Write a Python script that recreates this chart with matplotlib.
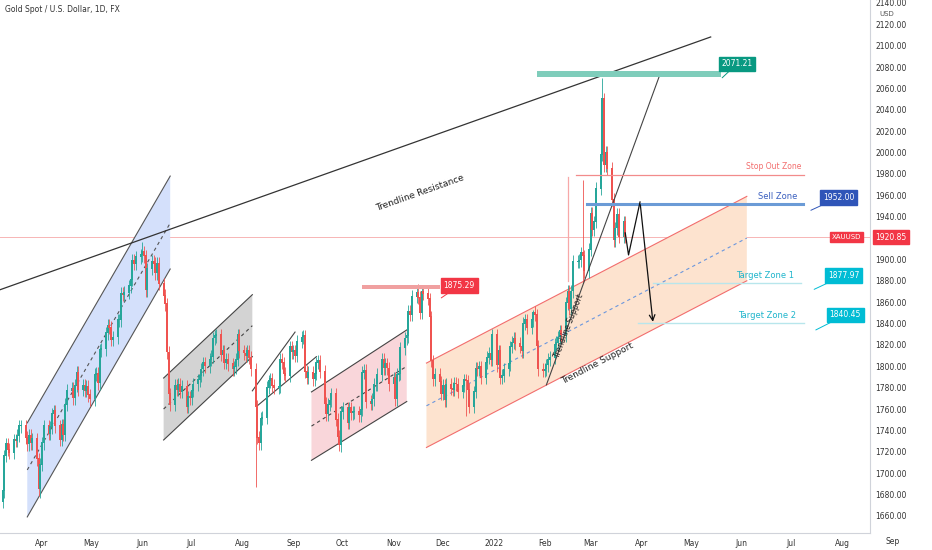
import matplotlib
matplotlib.use("Agg")
import matplotlib.pyplot as plt
from matplotlib.patches import Polygon, Rectangle
import pandas as pd
import numpy as np

BASE = pd.Timestamp("2021-03-01")

months = ["2021-03", "2021-04", "2021-05", "2021-06", "2021-07", "2021-08", "2021-09",
          "2021-10", "2021-11", "2021-12", "2022-01", "2022-02", "2022-03"]
month_start_day = {"2021-03": 8}
closes_by_month = [
    [1683,1716,1727,1722,1719,1731,1730,1735,1744,1744,1733,1727,1735,1728,1732,1713,1685,1708],
    [1728,1744,1737,1743,1755,1758,1744,1731,1745,1736,1764,1777,1779,1770,1782,1794,1778,1782,1777,1781,1773,1769],
    [1792,1793,1784,1815,1816,1831,1838,1836,1825,1827,1843,1843,1868,1867,1869,1875,1881,1899,1896,1902,1904],
    [1907,1903,1871,1891,1898,1896,1887,1896,1877,1866,1858,1813,1774,1764,1782,1778,1783,1776,1781,1762,1771,1770],
    [1777,1783,1787,1791,1797,1803,1800,1806,1809,1826,1828,1829,1811,1814,1803,1806,1802,1797,1799,1806,1829,1814],
    [1812,1810,1814,1808,1797,1762,1733,1728,1751,1752,1780,1786,1788,1782,1780,1781,1806,1803,1793,1791,1818,1813],
    [1814,1810,1823,1827,1828,1795,1789,1794,1788,1793,1803,1805,1795,1765,1755,1764,1768,1774,1750,1734,1726,1757],
    [1761,1747,1761,1756,1757,1757,1754,1759,1794,1796,1767,1765,1769,1783,1783,1792,1806,1798,1802,1798,1783],
    [1789,1769,1792,1793,1817,1826,1828,1851,1848,1865,1869,1864,1850,1870,1868,1863,1846,1805,1788,1792,1785,1774],
    [1782,1768,1783,1779,1778,1784,1783,1776,1782,1787,1786,1778,1762,1776,1798,1797,1799,1789,1803,1808,1812,1806,1829],
    [1801,1814,1789,1791,1797,1802,1818,1822,1826,1821,1818,1814,1840,1843,1836,1843,1850,1848,1819,1797,1796],
    [1797,1801,1806,1808,1820,1822,1827,1833,1829,1859,1870,1854,1870,1898,1898,1899,1906,1903,1889,1909],
    [1943,1928,1935,1966,1998,2050,1988,2000,1985,1956,1918,1929,1942,1921,1935,1921],
]
extreme_highs = {"2021-06-01": 1916, "2021-11-16": 1877, "2022-01-25": 1853,
                 "2022-02-24": 1974, "2022-03-08": 2070}
extreme_lows = {"2021-03-31": 1677, "2021-08-09": 1687, "2021-09-29": 1721,
                "2021-12-15": 1753, "2022-02-24": 1878}
wick = 6

dates, closes = [], []
for m, cl in zip(months, closes_by_month):
    start = pd.Timestamp(m + "-%02d" % month_start_day.get(m, 1))
    end = start + pd.offsets.MonthEnd(0)
    ds = pd.bdate_range(start, end)[:len(cl)]
    dates += list(ds)
    closes += cl
x = np.array([(d - BASE).days for d in dates])
closes = np.array(closes, float)
opens = np.r_[closes[0] - 10, closes[:-1]]
highs = np.maximum(opens, closes) + wick
lows = np.minimum(opens, closes) - wick
for i, d in enumerate(dates):
    k = d.strftime("%Y-%m-%d")
    if k in extreme_highs: highs[i] = extreme_highs[k]
    if k in extreme_lows: lows[i] = extreme_lows[k]

def dd(s):
    return (pd.Timestamp(s) - BASE).days

XMIN, XMAX = 5.4, 535.0
YMIN, YMAX = 1644, 2142.8
fig = plt.figure(figsize=(9.32, 5.5), dpi=100)
ax = fig.add_axes([0, 0.031, 0.9335, 0.969])

GREEN, RED = "#26a69a", "#ef5350"

def poly(pts, fc):
    ax.add_patch(Polygon([(dd(a), b) for a, b in pts], closed=True, fc=fc, ec="none", zorder=1))

def line(p1, p2, **kw):
    ax.plot([dd(p1[0]), dd(p2[0])], [p1[1], p2[1]], **kw)

poly([("2021-03-23",1659),("2021-03-23",1747),("2021-06-18",1978),("2021-06-18",1891)], "#d4e0fb")
line(("2021-03-23",1659),("2021-06-18",1891), color="#555", lw=0.8, zorder=2)
line(("2021-03-23",1747),("2021-06-18",1978), color="#555", lw=0.8, zorder=2)
line(("2021-03-23",1703),("2021-06-18",1934), color="#555", lw=0.8, ls=(0,(3,3)), zorder=2)

poly([("2021-06-14",1731),("2021-06-14",1789),("2021-08-07",1867),("2021-08-07",1809)], "#d3d3d3")
line(("2021-06-14",1731),("2021-08-07",1809), color="#444", lw=0.8, zorder=2)
line(("2021-06-14",1789),("2021-08-07",1867), color="#444", lw=0.8, zorder=2)
line(("2021-06-14",1760),("2021-08-07",1838), color="#444", lw=0.8, ls=(0,(3,3)), zorder=2)

line(("2021-08-07",1777),("2021-09-02",1832), color="#444", lw=0.8, zorder=2)
line(("2021-08-10",1763),("2021-09-15",1809), color="#444", lw=0.8, zorder=2)

poly([("2021-09-12",1712),("2021-09-12",1776),("2021-11-09",1834),("2021-11-09",1767)], "#f9d6da")
line(("2021-09-12",1712),("2021-11-09",1767), color="#444", lw=0.8, zorder=2)
line(("2021-09-12",1776),("2021-11-09",1834), color="#444", lw=0.8, zorder=2)
line(("2021-09-12",1744),("2021-11-09",1800), color="#444", lw=0.8, ls=(0,(3,3)), zorder=2)

poly([("2021-11-21",1724),("2021-11-21",1803),("2022-06-04",1959),("2022-06-04",1880)], "#fde3cf")
line(("2021-11-21",1724),("2022-06-04",1880), color="#f26d6d", lw=0.8, zorder=2)
line(("2021-11-21",1803),("2022-06-04",1959), color="#f26d6d", lw=0.8, zorder=2)
line(("2021-11-21",1763),("2022-06-04",1920), color="#6a96dd", lw=0.8, ls=(0,(3,3)), zorder=2)

ax.axhline(1920.85, color="#f7b5b5", lw=0.7, zorder=0.5)

up = closes >= opens
col = np.where(up, GREEN, RED)
ax.vlines(x, lows, highs, colors=col, lw=0.6, zorder=3)
ax.bar(x, np.abs(closes - opens) + 0.8, bottom=np.minimum(opens, closes), width=1.2, color=col, zorder=3, lw=0)

line(("2021-03-06",1871.4),("2022-05-13",2108.2), color="#333", lw=0.9, zorder=4)
line(("2022-02-02",1782.6),("2022-04-12",2072.6), color="#444", lw=0.8, zorder=4)
ax.text(dd("2021-11-17"), 1962, "Trendline Resistance", rotation=19.6, fontsize=6.5, ha="center", va="center", color="#222", zorder=5)
ax.text(dd("2022-02-16"), 1838, "Trendline Support", rotation=69, fontsize=5.5, ha="center", va="center", color="#222", zorder=5)
ax.text(dd("2022-03-05"), 1803, "Trendline Support", rotation=27.5, fontsize=6.5, ha="center", va="center", color="#222", zorder=5)

ax.add_patch(Rectangle((dd("2022-01-27"), 2070.8), dd("2022-05-19") - dd("2022-01-27"), 5.6, fc="#7fcdbb", ec="none", zorder=4))
ax.add_patch(Rectangle((dd("2021-10-13"), 1872), dd("2021-11-29") - dd("2021-10-13"), 3.9, fc="#f0a0a0", ec="none", zorder=4))
ax.plot([dd("2022-02-20"), dd("2022-07-09")], [1979, 1979], color="#f28b8b", lw=0.9, zorder=4)
ax.plot([dd("2022-02-15"), dd("2022-02-15")], [1880, 1977], color="#f7a8a8", lw=0.9, zorder=4)
ax.plot([dd("2022-02-27"), dd("2022-07-08")], [1952, 1952], color="#6b9bd6", lw=2.2, zorder=4)
ax.plot([dd("2022-04-08"), dd("2022-07-07")], [1877.97, 1877.97], color="#b8e6ec", lw=1.0, zorder=4)
ax.plot([dd("2022-03-30"), dd("2022-07-09")], [1840.45, 1840.45], color="#b8e6ec", lw=1.0, zorder=4)
ax.text(dd("2022-07-07"), 1983, "Stop Out Zone", color="#f26d6d", fontsize=5.5, ha="right", va="bottom")
ax.text(dd("2022-07-05"), 1955, "Sell Zone", color="#3a5fbf", fontsize=6, ha="right", va="bottom")
ax.text(dd("2022-07-03"), 1881, "Target Zone 1", color="#1fb5cc", fontsize=6, ha="right", va="bottom")
ax.text(dd("2022-07-04"), 1843, "Target Zone 2", color="#1fb5cc", fontsize=6, ha="right", va="bottom")

def tag(date, price, text, color, anchor):
    ax.annotate(text, xy=(dd(anchor[0]), anchor[1]), xytext=(dd(date), price),
                fontsize=5.5, color="white", ha="center", va="center", zorder=6,
                bbox=dict(boxstyle="square,pad=0.35", fc=color, ec=color),
                arrowprops=dict(arrowstyle="-", color=color, lw=0.7, shrinkA=0, shrinkB=0))
tag("2022-05-29", 2083, "2071.21", "#089981", ("2022-05-20", 2070))
tag("2021-12-11", 1875.5, "1875.29", "#f23645", ("2021-11-30", 1864))
tag("2022-07-30", 1958, "1952.00", "#2f55b8", ("2022-07-13", 1946))
tag("2022-08-02", 1885, "1877.97", "#00bcd4", ("2022-07-15", 1872))
tag("2022-08-03", 1848, "1840.45", "#00bcd4", ("2022-07-16", 1834))

ax.plot([dd("2022-03-22"), dd("2022-03-24"), dd("2022-03-31")], [1924.8, 1904.2, 1953.8], color="#111", lw=0.9, zorder=5)
ax.annotate("", xy=(dd("2022-04-08"), 1839), xytext=(dd("2022-03-31"), 1953.8),
            arrowprops=dict(arrowstyle="->", color="#111", lw=0.9), zorder=5)

for s in ["top", "left"]:
    ax.spines[s].set_visible(False)
for s in ["right", "bottom"]:
    ax.spines[s].set_color("#d0d3da"); ax.spines[s].set_linewidth(0.8)
ax.yaxis.tick_right()
yt = list(range(1660, 2141, 20))
ax.set_yticks(yt)
ax.set_yticklabels(["" if v == 1920 else "%.2f" % v for v in yt], fontsize=5.5, color="#333")
mlabels = ["Apr","May","Jun","Jul","Aug","Sep","Oct","Nov","Dec","2022","Feb","Mar","Apr","May","Jun","Jul","Aug","Sep"]
mdates = pd.date_range("2021-04-01", "2022-09-01", freq="MS")
ax.set_xlim(XMIN, XMAX)
ax.set_ylim(YMIN, YMAX)
inside = [(dd(d), l) for d, l in zip(mdates, mlabels) if dd(d) <= XMAX]
outside = [(dd(d), l) for d, l in zip(mdates, mlabels) if dd(d) > XMAX]
ax.set_xticks([p for p, _ in inside])
ax.set_xticklabels([l for _, l in inside], fontsize=5.5, color="#333")
for p, l in outside:
    fx = 0.9335 * (p - XMIN) / (XMAX - XMIN)
    fig.text(fx, 0.031 - 4.3 / 550, l, fontsize=5.5, color="#333", ha="center", va="top")
ax.tick_params(length=0, pad=4)
fig.text(0.944, 0.975, "USD", fontsize=5, color="#555", va="center")
ax.text(0.006, 0.99, "Gold Spot / U.S. Dollar, 1D, FX", transform=ax.transAxes, fontsize=5.5, color="#333", va="top")
yf = (1920.85 - YMIN) / (YMAX - YMIN)
ax.text(1.006, yf, "1920.85", transform=ax.transAxes, fontsize=5.5, color="white",
        va="center", ha="left", bbox=dict(boxstyle="square,pad=0.3", fc="#f23645", ec="#f23645"), clip_on=False, zorder=7)
ax.text(0.99, yf, "XAUUSD", transform=ax.transAxes, fontsize=5, color="white",
        va="center", ha="right", bbox=dict(boxstyle="square,pad=0.3", fc="#f23645", ec="#f23645"), clip_on=False, zorder=7)

fig.savefig("out.png", dpi=100)
